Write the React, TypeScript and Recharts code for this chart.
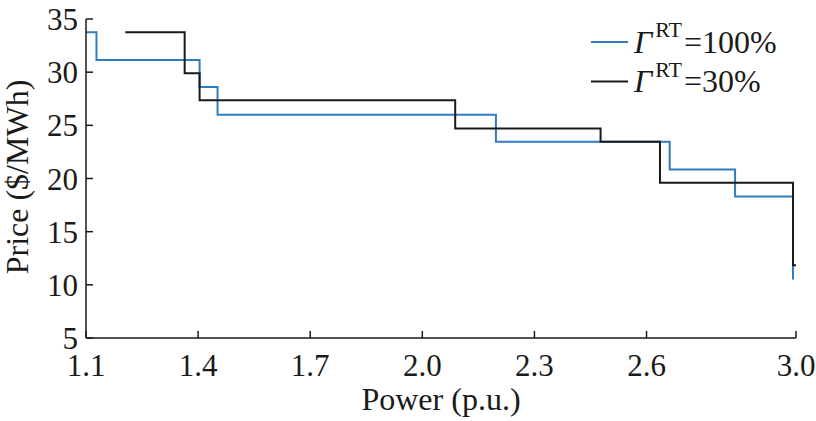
import React from 'react';
import { LineChart, Line, XAxis, YAxis, Label } from 'recharts';

// step curves (price holds until the next power value)
const powerFull = [1.1, 1.128, 1.404, 1.452, 2.197, 2.662, 2.837, 2.992];
const priceFull = [33.75, 31.15, 28.6, 26.0, 23.45, 20.85, 18.3, 10.5];
const powerLow = [1.205, 1.364, 1.404, 2.088, 2.477, 2.636, 2.992, 3.0];
const priceLow = [33.75, 29.9, 27.35, 24.7, 23.45, 19.6, 11.85, 11.85];

const xTicks = [1.1, 1.4, 1.7, 2.0, 2.3, 2.6, 3.0];
const yTicks = [5, 10, 15, 20, 25, 30, 35];
const gammaLevels = ['100%', '30%'];
const seriesColors = ['#2f7dbf', '#1a1a1a'];

const toRows = (xs: number[], ys: number[]) => xs.map((power, i) => ({ power, price: ys[i] }));
const fullData = toRows(powerFull, priceFull);
const lowData = toRows(powerLow, priceLow);

const FONT = "'Times New Roman', 'Liberation Serif', serif";
const INK = '#1a1a1a';

// legend drawn on top of the chart, top right corner
function GammaLegend() {
  return (
    <svg width={230} height={100} style={{ position: 'absolute', left: 586, top: 0 }}>
      {gammaLevels.map((level, i) => {
        const y = 42 + i * 39.5;
        return (
          <g key={level}>
            <line x1={5} x2={42} y1={y} y2={y} stroke={seriesColors[i]} strokeWidth={2} />
            <text x={48} y={y + 10.5} style={{ fontFamily: FONT }} fontSize={32} fill={INK}>
              <tspan fontStyle="italic">Γ</tspan>
              <tspan fontSize={22} dy={-15.5} dx={3}>RT</tspan>
              <tspan dy={15.5} dx={2}>={level}</tspan>
            </text>
          </g>
        );
      })}
    </svg>
  );
}

export default function App() {
  const tickStyle = { fill: INK, fontSize: 31, style: { fontFamily: FONT } };
  return (
    <div
      style={{ position: 'absolute', left: 0, top: 0, width: 816, height: 421, background: '#fff', fontFamily: FONT }}
    >
      <LineChart width={816} height={421} margin={{ top: 19, right: 20, left: 0, bottom: 0 }} style={{ fontFamily: FONT }}>
        <XAxis
          type="number"
          dataKey="power"
          domain={[1.1, 3.0]}
          ticks={xTicks}
          interval={0}
          allowDataOverflow
          height={83}
          tickFormatter={(v: number) => v.toFixed(1)}
          tick={tickStyle}
          tickSize={-7}
          tickMargin={23}
          axisLine={{ stroke: INK, strokeWidth: 1.5 }}
          tickLine={{ stroke: INK, strokeWidth: 1.5 }}
        >
          <Label
            content={() => (
              <text x={441} y={410} textAnchor="middle" style={{ fontFamily: FONT }} fontSize={32} fill={INK}>
                Power (p.u.)
              </text>
            )}
          />
        </XAxis>
        <YAxis
          type="number"
          domain={[5, 35]}
          ticks={yTicks}
          interval={0}
          width={86}
          tick={tickStyle}
          tickSize={-7}
          tickMargin={15}
          axisLine={{ stroke: INK, strokeWidth: 1.5 }}
          tickLine={{ stroke: INK, strokeWidth: 1.5 }}
        >
          <Label
            content={() => (
              <text
                x={0}
                y={0}
                transform="translate(28,177) rotate(-90)"
                textAnchor="middle"
                style={{ fontFamily: FONT }}
                fontSize={32}
                fill={INK}
              >
                Price ($/MWh)
              </text>
            )}
          />
        </YAxis>
        <Line
          data={fullData}
          dataKey="price"
          name="100%"
          type="stepAfter"
          stroke={seriesColors[0]}
          strokeWidth={2}
          dot={false}
          activeDot={false}
          isAnimationActive={false}
        />
        <Line
          data={lowData}
          dataKey="price"
          name="30%"
          type="stepAfter"
          stroke={seriesColors[1]}
          strokeWidth={2}
          dot={false}
          activeDot={false}
          isAnimationActive={false}
        />
      </LineChart>
      <GammaLegend />
    </div>
  );
}
